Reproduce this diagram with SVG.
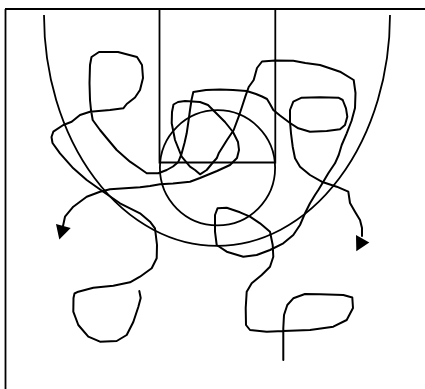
<svg xmlns="http://www.w3.org/2000/svg" width="425" height="389" viewBox="0 0 425 389">
<style>
.ln{fill:none;stroke:#000;stroke-width:1.8}
.mv{fill:none;stroke:#000;stroke-width:2;stroke-linejoin:round;stroke-linecap:round}
.ah{fill:#000;stroke:none}
</style>
<rect width="425" height="389" fill="#fff"/>
<g id="court">
<path class="ln" d="M5,9 H425 M5.5,9 V389"/>
<path class="ln" d="M159.5,9 V162.5 H275.3 V9"/>
<circle class="ln" cx="217.5" cy="167.8" r="57.6"/>
<path class="ln" d="M44,15 A173,231 0 0 0 390,15"/>
</g>
<g id="connectors">
<polyline id="move1" class="mv" points="139.3,291 140.7,298 138.3,307 133.3,322 126.7,335 116.7,341 100,341.7 88.3,336.7 78.3,325 73.3,311.7 73.5,298 74.5,293.5 78.3,291.7 93.3,287.7 113.3,285.7 130,282.3 140,276.7 151.7,268.3 156.7,258.3 157,245 155,228.3 150,221.7 140,213.3 120,203.3 103.3,191.7 86.7,180 73.3,168.3 60,153.3 52.5,143 51.5,137 53.3,131.7 63.3,125 71.7,121.7 80,115 90,111.7 110,110 123.3,108.3 126.7,104 135,97.5 140,90 143,78 142,65 137,57 118,52 99,52 91.5,57 90,65 89.5,83 90,100 91,110 92.7,120 100,130 108.3,140 116.7,150 130,161.7 140,168.5 146.7,173.3 158.3,173.3 166.7,170 173,166.5 178.3,162 181.7,153.3 184.5,143 186.7,133.3 188.5,121 190,110 191.5,100 193.3,92 206,90 220,89.5 233,90 246.7,91 256,94 262,96.5 267,99 270,104 273.3,110 280,115.5 290,123 298.3,128.3 310,131.7 326.7,131 340,129.3 345,125 347.3,116.7 346,108.3 342.7,100 338.3,97.7 320,97.3 301.7,97.7 293.3,101.7 290,110 290,121.7 291,133.3 292.7,146.7 295,158.3 300,166.7 310,175 321.7,181.7 336.7,186.7 348.3,191.7 350,203 355,211.7 360,220 362,228 362,236"/>
<polyline id="move2" class="mv" points="283.3,360 283.3,328 284,315 287.3,305 293.3,298.3 305,294 320,294.3 343.3,295 352.3,297.5 353,308 346.7,320 333.3,326.7 310,330 283.3,331 266.7,331.7 250,330 246,325 245.7,308 246.7,291.7 251.7,283.3 261.7,275 270,266.7 273.3,256.7 272.7,245 270,231.7 260,223.3 250,216.7 240,212.3 226.7,207.7 217.5,208.3 215,215 215,231.7 216.7,245 226.7,251.7 243.3,256.7 256.7,255 270,250 283.3,243.3 293.3,235 300,225 305,213.3 310,203.3 315,195 318.3,190 323.3,181.7 328.3,173.3 335,163.3 338.7,155 341.7,145 346.7,133.3 351.5,121 355,108 355.5,93 353.7,80 340,71.7 332,69 320,65 305.3,63 293.3,60.7 275.3,60.5 262,61.5 257,68 253.7,80 248.7,87 245.3,96.7 242,106.7 238.7,116.7 233.7,130 227,140 222,148 218.7,153.3 216.7,158.3 213.3,162 206.7,170 200,174.3 195,170 190,166.7 181.7,156.7 175,140 171.7,123.3 172,112 173.5,104.5 178,102 185,101 200,102 208,105 215,112 225,122 233,132 238,142 239,150 237,158 230,165 217,171 200,178 190,181.7 173,183.5 160,184.3 150,186 140,187.3 110,189.3 100,191.7 86.7,196.7 73.3,206.7 65,216.7 63,226"/>
<polygon class="ah" points="56,224 70.7,228 59.3,239.5"/>
<polygon class="ah" points="356,235 369.3,242.5 356.3,251.2"/>
</g>
</svg>
